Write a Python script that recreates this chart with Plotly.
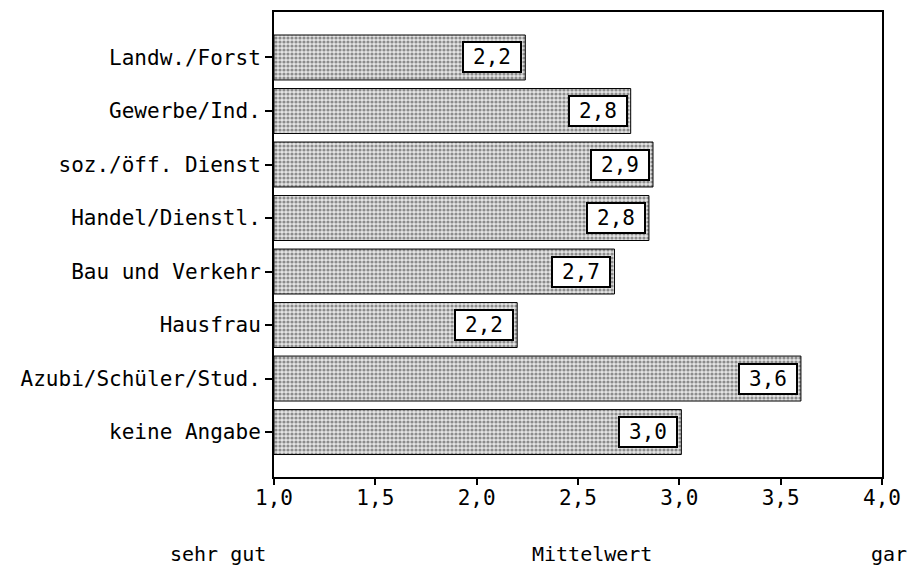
import plotly.graph_objects as go

# Berufsgruppen (von oben nach unten) und Mittelwerte
categories = ["Landw./Forst", "Gewerbe/Ind.", "soz./öff. Dienst", "Handel/Dienstl.",
              "Bau und Verkehr", "Hausfrau", "Azubi/Schüler/Stud.", "keine Angabe"]
means = [2.24, 2.76, 2.87, 2.85, 2.68, 2.20, 3.60, 3.01]
mean_labels = ["2,2", "2,8", "2,9", "2,8", "2,7", "2,2", "3,6", "3,0"]

tick_vals = [1.0, 1.5, 2.0, 2.5, 3.0, 3.5, 4.0]
tick_text = ["1,0", "1,5", "2,0", "2,5", "3,0", "3,5", "4,0"]

FONT = "DejaVu Sans Mono"
BASE = 1.0

# Seite hat 8px body-margin -> Plotbereich soll auf Seite bei x 274..882, y 12..477 liegen
PX_L, PX_R, PX_T, PX_B = 274, 882, 12, 477


def px(x):
    return (x - PX_L) / (PX_R - PX_L)


def py(y):
    return (PX_B - y) / (PX_B - PX_T)


fig = go.Figure()
fig.add_trace(go.Bar(
    y=categories,
    x=[m - BASE for m in means],
    base=BASE,
    orientation="h",
    width=0.84,
    marker=dict(
        color="#d0d0d0",
        line=dict(color="black", width=1),
        pattern=dict(shape=".", fgcolor="#333333", bgcolor="#e4e4e4", size=4, solidity=0.5),
    ),
    hoverinfo="skip",
    showlegend=False,
))

# Wertekästchen am Balkenende
for cat, m, lab in zip(categories, means, mean_labels):
    fig.add_annotation(
        x=m, y=cat, xref="x", yref="y",
        text=lab, showarrow=False,
        xanchor="right", xshift=-3,
        font=dict(family=FONT, size=21, color="black"),
        bgcolor="white", bordercolor="black", borderwidth=2, borderpad=2,
        width=52, height=24, align="center",
    )

# Beschriftungen unter der Achse
for txt, xp in [("sehr gut", 218), ("Mittelwert", 592)]:
    fig.add_annotation(
        x=px(xp), y=py(568), xref="paper", yref="paper",
        text=txt, showarrow=False, xanchor="center", yanchor="bottom",
        font=dict(family=FONT, size=20, color="black"),
    )
fig.add_annotation(
    x=px(909), y=py(568), xref="paper", yref="paper",
    text="gar", showarrow=False, xanchor="right", yanchor="bottom",
    font=dict(family=FONT, size=20, color="black"),
)

fig.update_xaxes(
    range=[1.0, 4.0], tickvals=tick_vals, ticktext=tick_text,
    ticks="outside", ticklen=6, tickwidth=2, tickcolor="black",
    ticklabelstandoff=-5,
    showline=True, linecolor="black", linewidth=2, mirror=True,
    showgrid=False, zeroline=False, automargin=False,
    tickfont=dict(family=FONT, size=21, color="black"),
)
fig.update_yaxes(
    categoryorder="array", categoryarray=categories,
    range=[7.84, -0.85],
    ticks="outside", ticklen=7, tickwidth=2, tickcolor="black",
    showline=True, linecolor="black", linewidth=2, mirror=True,
    showgrid=False, zeroline=False, automargin=False,
    tickfont=dict(family=FONT, size=21, color="black"),
)

fig.update_layout(
    width=920, height=567,
    margin=dict(l=PX_L - 8, r=920 + 8 - PX_R, t=PX_T - 8, b=567 + 8 - PX_B),
    paper_bgcolor="white", plot_bgcolor="white",
    bargap=0.16,
)

fig.write_html("out.html")
